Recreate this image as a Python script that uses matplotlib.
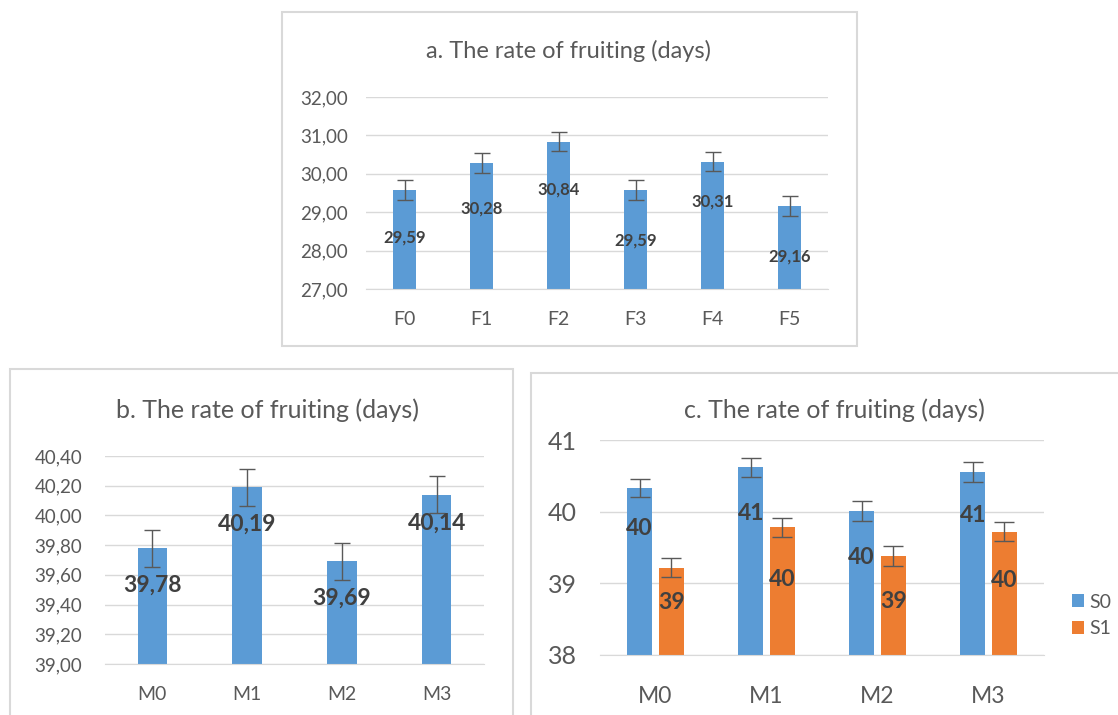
import matplotlib.pyplot as plt
import numpy as np
from matplotlib.patches import Rectangle

# --- Daten ---
kat_a = ["F0", "F1", "F2", "F3", "F4", "F5"]
werte_a = [29.59, 30.28, 30.84, 29.59, 30.31, 29.16]
fehler_a = [0.26, 0.25, 0.25, 0.26, 0.25, 0.27]
label_pos_a = [28.34, 29.10, 29.58, 28.25, 29.27, 27.84]

kat_b = ["M0", "M1", "M2", "M3"]
werte_b = [39.78, 40.19, 39.69, 40.14]
fehler_b = [0.125, 0.125, 0.125, 0.125]
label_pos_b = [39.53, 39.94, 39.44, 39.95]

kat_c = ["M0", "M1", "M2", "M3"]
werte_s0 = [40.33, 40.62, 40.01, 40.56]
werte_s1 = [39.22, 39.78, 39.38, 39.72]
fehler_s0 = [0.13, 0.13, 0.14, 0.14]
fehler_s1 = [0.13, 0.135, 0.135, 0.135]
label_pos_s0 = [39.76, 39.97, 39.36, 39.95]
label_pos_s1 = [38.73, 39.06, 38.74, 39.04]

BLAU = "#5B9BD5"
ORANGE = "#ED7D31"
GRAU = "#595959"
TEXT = "#404040"
LINIE = "#D9D9D9"

plt.rcParams["font.family"] = ["Lato", "DejaVu Sans"]

W, H = 1118, 715
fig = plt.figure(figsize=(W / 100, H / 100), dpi=100)


def achse(x0, y0, x1, y1):
    # Pixelkoordinaten (oben links) -> Figure-Koordinaten
    return fig.add_axes([x0 / W, 1 - y1 / H, (x1 - x0) / W, (y1 - y0) / H])


def rahmen(x0, y0, x1, y1):
    fig.patches.append(Rectangle((x0 / W, 1 - y1 / H), (x1 - x0) / W, (y1 - y0) / H,
                                 transform=fig.transFigure, fill=False,
                                 edgecolor=LINIE, linewidth=1.5))


def stil(ax, ylim, ticks, fmt, tsize, xsize, ypad, xpad):
    ax.set_ylim(*ylim)
    ax.set_yticks(ticks)
    ax.set_yticklabels([fmt(t) for t in ticks], color=GRAU, fontsize=tsize)
    ax.grid(axis="y", color=LINIE, linewidth=1)
    ax.set_axisbelow(True)
    for s in ["left", "right", "top"]:
        ax.spines[s].set_visible(False)
    ax.spines["bottom"].set_color(LINIE)
    ax.tick_params(length=0)
    ax.tick_params(axis="y", pad=ypad)
    ax.tick_params(axis="x", labelsize=xsize, labelcolor=GRAU, pad=xpad)


def komma(t, n):
    return f"{t:.{n}f}".replace(".", ",")


# --- a ---
rahmen(282, 12, 857, 346)
ax = achse(366, 97, 828, 289)
x = np.arange(len(kat_a))
ax.bar(x, werte_a, width=0.3, color=BLAU)
ax.errorbar(x, werte_a, yerr=fehler_a, fmt="none", ecolor=GRAU, elinewidth=1, capsize=6, capthick=1)
for xi, v, ly in zip(x, werte_a, label_pos_a):
    ax.text(xi, ly, komma(v, 2), ha="center", va="center", fontsize=12, fontweight="bold", color=TEXT)
ax.set_xticks(x)
ax.set_xticklabels(kat_a)
ax.set_xlim(-0.5, len(kat_a) - 0.5)
stil(ax, (27, 32), np.arange(27, 33, 1), lambda t: komma(t, 2), 13.5, 14, 13, 16)
fig.text(569 / W, 1 - 51 / H, "a. The rate of fruiting (days)", ha="center", va="center",
         fontsize=17, color=GRAU)

# --- b ---
rahmen(10, 369, 513, 730)
ax = achse(105, 456, 484, 664)
x = np.arange(len(kat_b))
ax.bar(x, werte_b, width=0.31, color=BLAU)
ax.errorbar(x, werte_b, yerr=fehler_b, fmt="none", ecolor=GRAU, elinewidth=1, capsize=6, capthick=1)
for xi, v, ly in zip(x, werte_b, label_pos_b):
    ax.text(xi, ly, komma(v, 2), ha="center", va="center", fontsize=16.5, fontweight="bold", color=TEXT)
ax.set_xticks(x)
ax.set_xticklabels(kat_b)
ax.set_xlim(-0.5, len(kat_b) - 0.5)
stil(ax, (39, 40.4), np.arange(39, 40.41, 0.2), lambda t: komma(t, 2), 13.5, 14, 16.5, 16)
fig.text(267 / W, 1 - 410 / H, "b. The rate of fruiting (days)", ha="center", va="center",
         fontsize=18, color=GRAU)

# --- c ---
rahmen(531, 373, 1130, 730)
ax = achse(600, 440, 1044, 655)
x = np.arange(len(kat_c))
off = 0.143
b0 = ax.bar(x - off, werte_s0, width=0.225, color=BLAU, label="S0")
b1 = ax.bar(x + off, werte_s1, width=0.225, color=ORANGE, label="S1")
ax.errorbar(x - off, werte_s0, yerr=fehler_s0, fmt="none", ecolor=GRAU, elinewidth=1, capsize=7, capthick=1)
ax.errorbar(x + off, werte_s1, yerr=fehler_s1, fmt="none", ecolor=GRAU, elinewidth=1, capsize=7, capthick=1)
for xi, v, ly in zip(x - off, werte_s0, label_pos_s0):
    ax.text(xi, ly, f"{v:.0f}", ha="center", va="center", fontsize=16.5, fontweight="bold", color=TEXT)
for xi, v, ly in zip(x + off, werte_s1, label_pos_s1):
    ax.text(xi, ly, f"{v:.0f}", ha="center", va="center", fontsize=16.5, fontweight="bold", color=TEXT)
ax.set_xticks(x)
ax.set_xticklabels(kat_c)
ax.set_xlim(-0.5, len(kat_c) - 0.5)
stil(ax, (38, 41), [38, 39, 40, 41], lambda t: f"{t:.0f}", 18, 16.5, 16.5, 22)
fig.text(834 / W, 1 - 410 / H, "c. The rate of fruiting (days)", ha="center", va="center",
         fontsize=18, color=GRAU)
fig.legend(handles=[b0, b1], loc="upper left", bbox_to_anchor=(1062 / W, 1 - 584 / H),
           frameon=False, fontsize=14, handlelength=0.65, handleheight=0.65,
           handletextpad=0.25, labelspacing=0.5, labelcolor=GRAU, borderpad=0)

fig.savefig("out.png", dpi=100)
